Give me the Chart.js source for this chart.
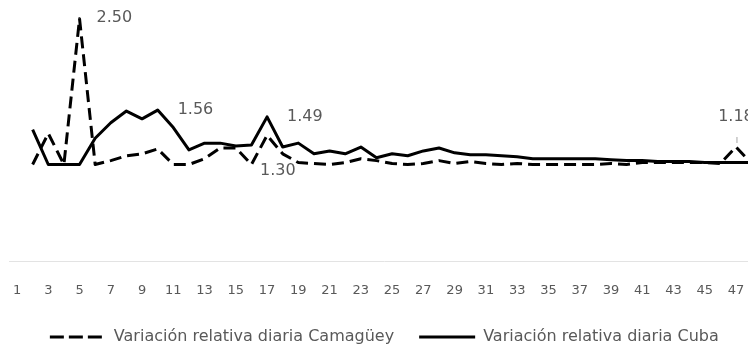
<!DOCTYPE html>
<html lang="es">
<head>
<meta charset="utf-8">
<title>Variación relativa diaria</title>
<script src="https://cdn.jsdelivr.net/npm/chart.js@4.4.1/dist/chart.umd.min.js"></script>
<style>
  html, body { margin: 0; padding: 0; background: #fff; overflow: hidden; }
  #marco { position: absolute; left: 0; top: 0; width: 770px; height: 355px; }
</style>
</head>
<body>
<div id="marco"><canvas id="grafico"></canvas></div>
<script>
// Días de seguimiento (eje X)
const dias = [
  '1','2','3','4','5','6','7','8','9','10','11','12','13','14','15','16',
  '17','18','19','20','21','22','23','24','25','26','27','28','29','30','31','32',
  '33','34','35','36','37','38','39','40','41','42','43','44','45','46','47','48'
];

// Variación relativa diaria (el día 1 no tiene día previo)
const camaguey = [
  null, 1.00, 1.32, 1.00, 2.50, 1.00, 1.04, 1.09, 1.11, 1.16, 1.00, 1.00,
  1.06, 1.17, 1.17, 1.00, 1.30, 1.11, 1.02, 1.01, 1.00, 1.02, 1.06, 1.04,
  1.01, 1.00, 1.01, 1.04, 1.01, 1.03, 1.01, 1.00, 1.01, 1.00, 1.00, 1.00,
  1.00, 1.00, 1.01, 1.00, 1.02, 1.02, 1.02, 1.02, 1.02, 1.01, 1.18, 1.01
];
const cuba = [
  null, 1.36, 1.00, 1.00, 1.00, 1.27, 1.43, 1.55, 1.47, 1.56, 1.38, 1.15,
  1.22, 1.22, 1.19, 1.20, 1.49, 1.18, 1.22, 1.11, 1.14, 1.11, 1.18, 1.07,
  1.11, 1.09, 1.14, 1.17, 1.12, 1.10, 1.10, 1.09, 1.08, 1.06, 1.06, 1.06,
  1.06, 1.06, 1.05, 1.04, 1.04, 1.03, 1.03, 1.03, 1.02, 1.02, 1.02, 1.02
];

// Días con el valor rotulado en cada serie
const rotuladosCamaguey = [5, 17, 47];
const rotuladosCuba = [10, 17];

const GRIS_TEXTO = '#595959';
const FUENTE = '"DejaVu Sans", sans-serif';

// Desplazamiento de cada rótulo respecto a su punto
function ubicarRotulo(serie, dia) {
  if (serie === 0 && dia === 5)  return { dx: 17, dy: -1, align: 'left' };
  if (serie === 0 && dia === 17) return { dx: -7, dy: 35, align: 'left' };
  if (serie === 0 && dia === 47) return { dx: 0, dy: -30, align: 'center', guia: true };
  return { dx: 20, dy: 0, align: 'left' };
}

const rotulosValor = {
  id: 'rotulosValor',
  afterDatasetsDraw(chart) {
    const ctx = chart.ctx;
    const listas = [rotuladosCamaguey, rotuladosCuba];
    ctx.save();
    ctx.font = '16px ' + FUENTE;
    ctx.fillStyle = GRIS_TEXTO;
    ctx.textBaseline = 'middle';
    listas.forEach((lista, serie) => {
      const meta = chart.getDatasetMeta(serie);
      const valores = chart.data.datasets[serie].data;
      lista.forEach((dia) => {
        const punto = meta.data[dia - 1];
        const pos = ubicarRotulo(serie, dia);
        if (pos.guia) {
          ctx.strokeStyle = '#a6a6a6';
          ctx.lineWidth = 1;
          ctx.beginPath();
          ctx.moveTo(punto.x + 1, punto.y - 10);
          ctx.lineTo(punto.x + 1, punto.y - 4);
          ctx.stroke();
        }
        ctx.textAlign = pos.align;
        ctx.fillText(valores[dia - 1].toFixed(2), punto.x + pos.dx, punto.y + pos.dy);
      });
    });
    ctx.restore();
  }
};

new Chart(document.getElementById('grafico'), {
  type: 'line',
  data: {
    labels: dias,
    datasets: [
      {
        label: 'Variación relativa diaria Camagüey',
        data: camaguey,
        borderColor: '#000',
        backgroundColor: '#000',
        borderWidth: 3,
        borderDash: [12, 6],
        borderJoinStyle: 'round',
        pointRadius: 0,
        tension: 0,
      },
      {
        label: 'Variación relativa diaria Cuba',
        data: cuba,
        borderColor: '#000',
        backgroundColor: '#000',
        borderWidth: 3,
        borderJoinStyle: 'round',
        pointRadius: 0,
        tension: 0,
      },
    ],
  },
  options: {
    responsive: true,
    maintainAspectRatio: false,
    animation: false,
    layout: { padding: { left: 9.2, right: 10.6, top: 9, bottom: 0 } },
    plugins: {
      tooltip: { enabled: false },
      legend: {
        position: 'bottom',
        labels: {
          usePointStyle: true,
          pointStyleWidth: 56,
          padding: 25,
          color: GRIS_TEXTO,
          font: { size: 16, family: FUENTE },
          // muestra de línea con el mismo trazo de cada serie
          generateLabels: (chart) => chart.data.datasets.map((ds, i) => ({
            text: ds.label,
            datasetIndex: i,
            fillStyle: ds.borderColor,
            strokeStyle: ds.borderColor,
            fontColor: GRIS_TEXTO,
            lineWidth: ds.borderWidth,
            lineDash: ds.borderDash ? [14, 5] : [],
            lineCap: 'butt',
            pointStyle: 'line',
            hidden: false,
          })),
        },
      },
    },
    scales: {
      x: {
        offset: true,
        grid: { display: false, drawTicks: false },
        border: { display: true, color: '#e3e3e3', width: 1 },
        ticks: {
          color: GRIS_TEXTO,
          font: { size: 13, family: FUENTE, lineHeight: 1.375 },
          autoSkip: false,
          maxRotation: 0,
          minRotation: 0,
          padding: 2,
          // línea en blanco para bajar el rótulo sin ensanchar el margen lateral
          callback: (v, i) => (i % 2 === 0 ? ['', dias[i]] : ''),
        },
        afterFit: (escala) => { escala.height = 42.3; },
      },
      y: {
        display: false,
        min: 0,
        max: 2.6,
      },
    },
  },
  plugins: [rotulosValor],
});
</script>
</body>
</html>
